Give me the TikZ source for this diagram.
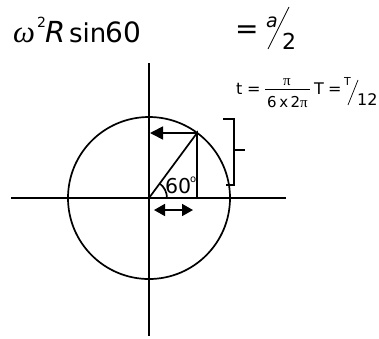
\documentclass[tikz,border=0pt]{standalone}
\usepackage{fontspec}
\setmainfont{DejaVu Sans}
\newfontfamily\grk{Liberation Serif}
\usetikzlibrary{arrows.meta}
\begin{document}
\begin{tikzpicture}[x=1pt,y=-1pt,
  ln/.style={line width=1.7pt},
  hair/.style={line width=0.7pt},
  txt/.style={inner sep=0pt, anchor=base west},
  tri/.style={-{Triangle[length=13pt,width=13pt]}},
  dbl/.style={{Triangle[length=11pt,width=12pt]}-{Triangle[length=11pt,width=12pt]}}]
\useasboundingbox (0,0) rectangle (379,338);
% geometry
\coordinate (O) at (149,198);
\coordinate (vt) at (149,63);
\coordinate (vb) at (149,336);
\coordinate (hl) at (11,198);
\coordinate (hr) at (286,198);
\coordinate (P) at (197,133);
\coordinate (F) at (197,198);
\coordinate (Pa) at (150,133);
\coordinate (da) at (154,210);
\coordinate (db) at (193,210);
\coordinate (b1) at (223,119);
\coordinate (b2) at (234,119);
\coordinate (b3) at (234,185);
\coordinate (b4) at (226,185);
\coordinate (bm) at (234,150);
\coordinate (bt) at (245,150);
\draw[ln] (vt) -- (vb);
\draw[ln] (hl) -- (hr);
\draw[ln] (O) circle[radius=81pt];
\draw[ln] (O) -- (P) -- (F);
\draw[ln,tri] (P) -- (Pa);
\draw[ln,dbl] (da) -- (db);
\draw[ln] (O) ++(18pt,0) arc[start angle=0,end angle=54,radius=18pt];
\draw[ln] (b1) -- (b2) -- (b3) -- (b4);
\draw[ln] (bm) -- (bt);
% angle label
\node[txt,font=\fontsize{20.5}{20.5}\selectfont] (ang) at (165,193) {60};
\node[txt,font=\fontsize{10}{10}\selectfont] (deg) at (190,182) {o};
% first line
\node[txt,font=\fontsize{31}{31}\selectfont\grk\itshape] (om) at (13,42) {ω};
\node[txt,font=\fontsize{14}{14}\selectfont] (sq) at (37,27) {2};
\node[txt,font=\fontsize{29}{29}\selectfont\itshape] (R) at (45,42) {R};
\node[txt,font=\fontsize{26}{26}\selectfont] (sin) at (69,42) {sin};
\node[txt,font=\fontsize{28}{28}\selectfont] (sixty) at (105,42) {60};
\node[txt,font=\fontsize{28}{28}\selectfont] (eq1) at (235,38) {=};
\node[txt,font=\fontsize{19}{19}\selectfont\itshape] (a) at (266,27) {a};
\node[txt,font=\fontsize{22}{22}\selectfont] (two) at (282,49) {2};
\coordinate (s1a) at (268,49);
\coordinate (s1b) at (289,7);
\draw[hair] (s1a) -- (s1b);
% t line
\node[txt,font=\fontsize{16}{16}\selectfont] (t) at (236,94) {t};
\node[txt,font=\fontsize{16}{16}\selectfont] (eq2) at (247,94) {=};
\coordinate (fa) at (265,89);
\coordinate (fb) at (310,89);
\draw[hair] (fa) -- (fb);
\node[inner sep=0pt,anchor=base,font=\fontsize{15}{15}\selectfont\grk] (pi) at (287,85) {π};
\node[inner sep=0pt,anchor=base,font=\fontsize{15}{15}\selectfont] (den) at (287.5,107) {6\,x\,2{\grk π}};
\node[txt,font=\fontsize{16}{16}\selectfont] (T1) at (314,94) {T};
\node[txt,font=\fontsize{16}{16}\selectfont] (eq3) at (328,94) {=};
\node[txt,font=\fontsize{11}{11}\selectfont] (T2) at (344,85) {T};
\coordinate (s2a) at (348,105);
\coordinate (s2b) at (358,80);
\draw[hair] (s2a) -- (s2b);
\node[txt,font=\fontsize{16}{16}\selectfont] (twelve) at (357,105) {12};
\end{tikzpicture}
\end{document}
